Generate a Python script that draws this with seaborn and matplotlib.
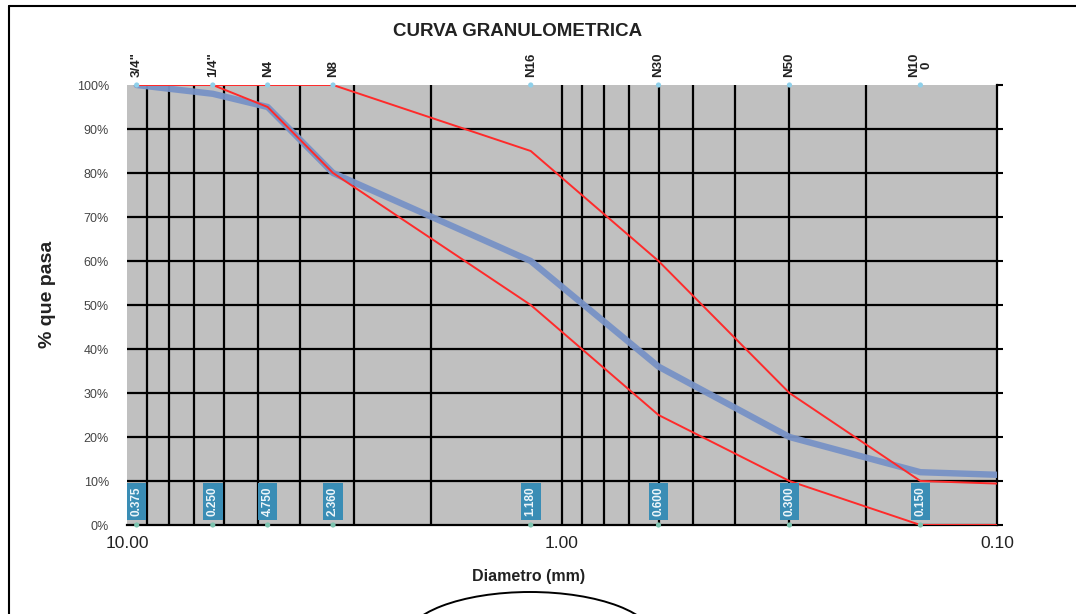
import numpy as np
import pandas as pd
import matplotlib
matplotlib.use("Agg")
import matplotlib.pyplot as plt
import seaborn as sns
from matplotlib.ticker import LogLocator, FixedLocator, NullLocator
from matplotlib.lines import Line2D
from matplotlib.patches import Arc
import matplotlib.transforms as mtransforms

# ---------------- data ----------------
sieve_names = ['3/4"', '1/4"', 'N4', 'N8', 'N16', 'N30', 'N50', 'N10\n0']
sieve_mm = [9.5, 6.35, 4.75, 3.36, 1.18, 0.60, 0.30, 0.15]
sieve_labels = ['0.375', '0.250', '4.750', '2.360', '1.180', '0.600', '0.300', '0.150']

curve_mm = [9.5, 6.35, 4.75, 3.36, 1.18, 0.60, 0.30, 0.15, 0.075]
sample_pass = [100, 98, 95, 80, 60, 36, 20, 12, 11]
upper_pass = [100, 100, 100, 100, 85, 60, 30, 10, 9]
lower_pass = [100, 100, 95, 80, 50, 25, 10, 0, 0]

y_ticks = [0, 10, 20, 30, 40, 50, 60, 70, 80, 90, 100]
x_ticks = [10, 1, 0.1]
x_tick_labels = ['10.00', '1.00', '0.10']

title = "CURVA GRANULOMETRICA"
xlabel = "Diametro (mm)"
ylabel = "% que pasa"

# ---------------- style ----------------
sns.set_style("white")
plt.rcParams['font.family'] = ['Liberation Sans', 'DejaVu Sans']

W, H = 1076, 614
fig = plt.figure(figsize=(W / 100, H / 100), dpi=100)
fig.patch.set_facecolor("white")

ax = fig.add_axes([127 / W, 1 - 525 / H, 870 / W, 440 / H])
ax.set_facecolor("#c0c0c0")
ax.set_xscale("log")

df_sample = pd.DataFrame({"mm": curve_mm, "pasa": sample_pass})
df_up = pd.DataFrame({"mm": curve_mm, "pasa": upper_pass})
df_lo = pd.DataFrame({"mm": curve_mm, "pasa": lower_pass})

sns.lineplot(data=df_sample, x="mm", y="pasa", ax=ax, sort=False, estimator=None,
             color="#7892c6", lw=4.6, alpha=0.95, zorder=4)
sns.lineplot(data=df_up, x="mm", y="pasa", ax=ax, sort=False, estimator=None,
             color="#ff2a2a", lw=1.4, zorder=5)
sns.lineplot(data=df_lo, x="mm", y="pasa", ax=ax, sort=False, estimator=None,
             color="#ff2a2a", lw=1.4, zorder=5)

# sieve markers at top and bottom
df_sieve = pd.DataFrame({"mm": sieve_mm, "top": [100] * len(sieve_mm), "bot": [0] * len(sieve_mm)})
sns.scatterplot(data=df_sieve, x="mm", y="top", ax=ax, color="#8fd0ea", s=14,
                edgecolor="none", zorder=6, clip_on=False)
sns.scatterplot(data=df_sieve, x="mm", y="bot", ax=ax, color="#7cc4b0", s=14,
                edgecolor="none", zorder=6, clip_on=False)

ax.set_xlim(10, 0.1)
ax.set_ylim(0, 100)

# grid lines (log minor/major for x, every 10% for y)
vloc = LogLocator(base=10, subs=np.arange(1, 10)).tick_values(0.1, 10)
vloc = [v for v in vloc if 0.1 * 1.01 < v < 10 * 0.99]
for v in vloc:
    ax.axvline(v, color="black", lw=1.6, zorder=2)
for yv in y_ticks:
    if 0 < yv < 100:
        ax.axhline(yv, color="black", lw=1.6, zorder=2)

# sieve value labels
for xm, lab in zip(sieve_mm, sieve_labels):
    ax.text(xm, 5.4, lab, rotation=90, ha="center", va="center", fontsize=8.5,
            color="#eef6fa", fontweight="bold", zorder=7,
            bbox=dict(boxstyle="square,pad=0.32", fc="#3a8db5", ec="none"))

# sieve names on top
trans = mtransforms.blended_transform_factory(ax.transData, ax.transAxes)
for xm, nm in zip(sieve_mm, sieve_names):
    ax.text(xm, 1.018, nm, transform=trans, rotation=90, ha="center", va="bottom",
            fontsize=9.5, fontweight="bold", color="#222222", linespacing=1.0)

# ticks
ax.xaxis.set_major_locator(FixedLocator(x_ticks))
ax.xaxis.set_minor_locator(NullLocator())
ax.set_xticklabels(x_tick_labels)
ax.set_yticks(y_ticks)
ax.set_yticklabels([f"{v}%" for v in y_ticks])
ax.tick_params(axis="x", which="major", direction="out", length=5, width=1.5,
               color="black", labelsize=12.5, pad=3, labelcolor="#222222")
ax.tick_params(axis="y", which="major", left=False, right=True, length=4, width=1.5,
               color="black", labelsize=9, pad=9, labelcolor="#444444")
ax.set_xlabel("")
ax.set_ylabel("")

for side in ["left", "top"]:
    ax.spines[side].set_visible(False)
for side in ["right", "bottom"]:
    ax.spines[side].set_visible(True)
    ax.spines[side].set_color("black")
    ax.spines[side].set_linewidth(1.6)

# texts
fig.text(518 / W, 1 - 32 / H, title, ha="center", va="center", fontsize=13.5,
         fontweight="bold", color="#222222")
fig.text(529 / W, 1 - 577 / H, xlabel, ha="center", va="center", fontsize=11.5,
         fontweight="bold", color="#222222")
fig.text(47 / W, 1 - 294 / H, ylabel, ha="center", va="center", rotation=90,
         fontsize=14, fontweight="bold", color="#222222")

# outer frame (top and left edges visible)
fig.add_artist(Line2D([9 / W, 1.0], [1 - 6 / H, 1 - 6 / H], transform=fig.transFigure,
                      color="black", lw=1.5))
fig.add_artist(Line2D([9 / W, 9 / W], [0.0, 1 - 6 / H], transform=fig.transFigure,
                      color="black", lw=1.5))

# decorative arc at bottom
pix = mtransforms.Affine2D().scale(1 / W, 1 / H) + fig.transFigure
fig.add_artist(Arc((530, H - 640), 250, 96, theta1=0, theta2=180, transform=pix,
                   color="black", lw=1.4))

fig.savefig("out.png", dpi=100, facecolor="white")
